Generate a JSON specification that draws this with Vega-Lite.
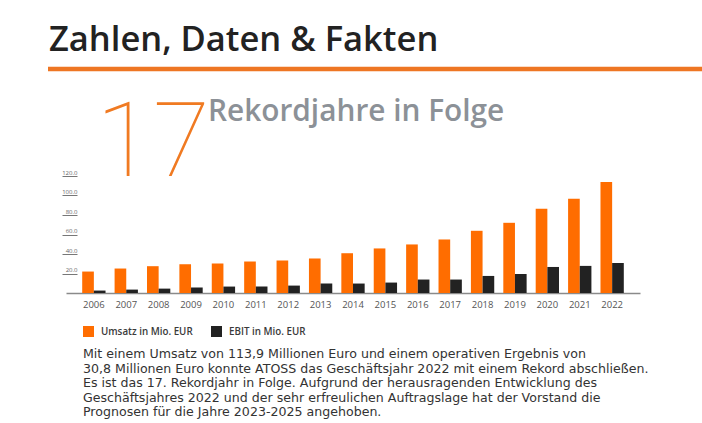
{
  "$schema": "https://vega.github.io/schema/vega-lite/v6.json",
  "autosize": {"type": "none"},
  "width": 574,
  "height": 117,
  "padding": {"left": 66, "top": 176, "right": 62, "bottom": 130},
  "background": "white",
  "config": {"font": "Open Sans", "view": {"stroke": null}},
  "layer": [
    {
      "data": {"values": [
        {"Jahr": "2006", "Kennzahl": "Umsatz in Mio. EUR", "Wert": 22.0},
        {"Jahr": "2006", "Kennzahl": "EBIT in Mio. EUR", "Wert": 2.5},
        {"Jahr": "2007", "Kennzahl": "Umsatz in Mio. EUR", "Wert": 25.1},
        {"Jahr": "2007", "Kennzahl": "EBIT in Mio. EUR", "Wert": 3.5},
        {"Jahr": "2008", "Kennzahl": "Umsatz in Mio. EUR", "Wert": 27.5},
        {"Jahr": "2008", "Kennzahl": "EBIT in Mio. EUR", "Wert": 4.5},
        {"Jahr": "2009", "Kennzahl": "Umsatz in Mio. EUR", "Wert": 29.5},
        {"Jahr": "2009", "Kennzahl": "EBIT in Mio. EUR", "Wert": 5.6},
        {"Jahr": "2010", "Kennzahl": "Umsatz in Mio. EUR", "Wert": 30.2},
        {"Jahr": "2010", "Kennzahl": "EBIT in Mio. EUR", "Wert": 6.6},
        {"Jahr": "2011", "Kennzahl": "Umsatz in Mio. EUR", "Wert": 32.3},
        {"Jahr": "2011", "Kennzahl": "EBIT in Mio. EUR", "Wert": 6.6},
        {"Jahr": "2012", "Kennzahl": "Umsatz in Mio. EUR", "Wert": 33.3},
        {"Jahr": "2012", "Kennzahl": "EBIT in Mio. EUR", "Wert": 7.6},
        {"Jahr": "2013", "Kennzahl": "Umsatz in Mio. EUR", "Wert": 35.4},
        {"Jahr": "2013", "Kennzahl": "EBIT in Mio. EUR", "Wert": 9.7},
        {"Jahr": "2014", "Kennzahl": "Umsatz in Mio. EUR", "Wert": 40.8},
        {"Jahr": "2014", "Kennzahl": "EBIT in Mio. EUR", "Wert": 9.7},
        {"Jahr": "2015", "Kennzahl": "Umsatz in Mio. EUR", "Wert": 45.7},
        {"Jahr": "2015", "Kennzahl": "EBIT in Mio. EUR", "Wert": 10.7},
        {"Jahr": "2016", "Kennzahl": "Umsatz in Mio. EUR", "Wert": 49.8},
        {"Jahr": "2016", "Kennzahl": "EBIT in Mio. EUR", "Wert": 13.8},
        {"Jahr": "2017", "Kennzahl": "Umsatz in Mio. EUR", "Wert": 54.9},
        {"Jahr": "2017", "Kennzahl": "EBIT in Mio. EUR", "Wert": 13.8},
        {"Jahr": "2018", "Kennzahl": "Umsatz in Mio. EUR", "Wert": 63.8},
        {"Jahr": "2018", "Kennzahl": "EBIT in Mio. EUR", "Wert": 17.5},
        {"Jahr": "2019", "Kennzahl": "Umsatz in Mio. EUR", "Wert": 72.0},
        {"Jahr": "2019", "Kennzahl": "EBIT in Mio. EUR", "Wert": 19.5},
        {"Jahr": "2020", "Kennzahl": "Umsatz in Mio. EUR", "Wert": 86.4},
        {"Jahr": "2020", "Kennzahl": "EBIT in Mio. EUR", "Wert": 26.7},
        {"Jahr": "2021", "Kennzahl": "Umsatz in Mio. EUR", "Wert": 96.7},
        {"Jahr": "2021", "Kennzahl": "EBIT in Mio. EUR", "Wert": 27.8},
        {"Jahr": "2022", "Kennzahl": "Umsatz in Mio. EUR", "Wert": 113.9},
        {"Jahr": "2022", "Kennzahl": "EBIT in Mio. EUR", "Wert": 30.8}
      ]},
      "mark": {"type": "bar"},
      "encoding": {
        "x": {
          "field": "Jahr", "type": "nominal",
          "scale": {"paddingInner": 0.28, "paddingOuter": 0.5},
          "axis": {
            "title": null, "labelAngle": 0, "ticks": false,
            "labelFontSize": 9.5, "labelColor": "#555555", "labelPadding": 6,
            "domainColor": "#8a8a8a", "domainWidth": 1.5
          }
        },
        "xOffset": {
          "field": "Kennzahl", "type": "nominal",
          "sort": ["Umsatz in Mio. EUR", "EBIT in Mio. EUR"],
          "scale": {"paddingInner": 0, "paddingOuter": 0}
        },
        "y": {
          "field": "Wert", "type": "quantitative",
          "scale": {"domain": [0, 120], "nice": false},
          "axis": {
            "title": null, "grid": false, "domain": false,
            "values": [20, 40, 60, 80, 100, 120], "format": ".1f",
            "offset": 4, "tickSize": -15, "tickColor": "#777777", "tickWidth": 1,
            "labelPadding": 0, "labelAlign": "right", "labelBaseline": "bottom", "labelOffset": -1,
            "labelFontSize": 6, "labelColor": "#666666"
          }
        },
        "color": {
          "field": "Kennzahl", "type": "nominal",
          "sort": ["Umsatz in Mio. EUR", "EBIT in Mio. EUR"],
          "scale": {"domain": ["Umsatz in Mio. EUR", "EBIT in Mio. EUR"], "range": ["#FF6D00", "#222222"]},
          "legend": {
            "title": null, "orient": "none", "direction": "horizontal",
            "legendX": 17, "legendY": 150,
            "symbolType": "square", "symbolSize": 121, "symbolStrokeWidth": 0,
            "symbolOpacity": 1,
            "labelFontSize": 9.8, "labelFontWeight": 600, "labelColor": "#3a3a3a",
            "labelOffset": 7, "columnPadding": 18, "labelLimit": 200
          }
        }
      }
    },
    {
      "data": {"values": [{"t": "Zahlen, Daten & Fakten"}]},
      "mark": {"type": "text", "align": "left", "baseline": "alphabetic", "fontSize": 34.5, "fontWeight": 600, "color": "#222222", "font": "Open Sans"},
      "encoding": {"text": {"field": "t"}, "x": {"value": -17}, "y": {"value": -125}}
    },
    {
      "data": {"values": [{}]},
      "mark": {"type": "rule", "stroke": "#EE7623", "strokeWidth": 4.5},
      "encoding": {"x": {"value": -18}, "x2": {"value": 640}, "y": {"value": -107}}
    },
    {
      "data": {"values": [{"t": "17"}]},
      "mark": {"type": "text", "align": "left", "baseline": "alphabetic", "fontSize": 104, "fontWeight": 100, "color": "#F07A22", "font": "Roboto"},
      "encoding": {"text": {"field": "t"}, "x": {"value": 30}, "y": {"value": 0}}
    },
    {
      "data": {"values": [{"t": "Rekordjahre in Folge"}]},
      "mark": {"type": "text", "align": "left", "baseline": "alphabetic", "fontSize": 29.8, "fontWeight": 600, "color": "#8C9197", "font": "Open Sans"},
      "encoding": {"text": {"field": "t"}, "x": {"value": 142}, "y": {"value": -55}}
    },
    {
      "data": {"values": [{"t": [
        "Mit einem Umsatz von 113,9 Millionen Euro und einem operativen Ergebnis von",
        "30,8 Millionen Euro konnte ATOSS das Geschäftsjahr 2022 mit einem Rekord abschließen.",
        "Es ist das 17. Rekordjahr in Folge. Aufgrund der herausragenden Entwicklung des",
        "Geschäftsjahres 2022 und der sehr erfreulichen Auftragslage hat der Vorstand die",
        "Prognosen für die Jahre 2023-2025 angehoben."
      ]}]},
      "mark": {"type": "text", "align": "left", "baseline": "alphabetic", "fontSize": 12.6, "lineHeight": 14.5, "color": "#333333", "font": "DejaVu Sans"},
      "encoding": {"text": {"field": "t"}, "x": {"value": 17}, "y": {"value": 182}}
    }
  ]
}
